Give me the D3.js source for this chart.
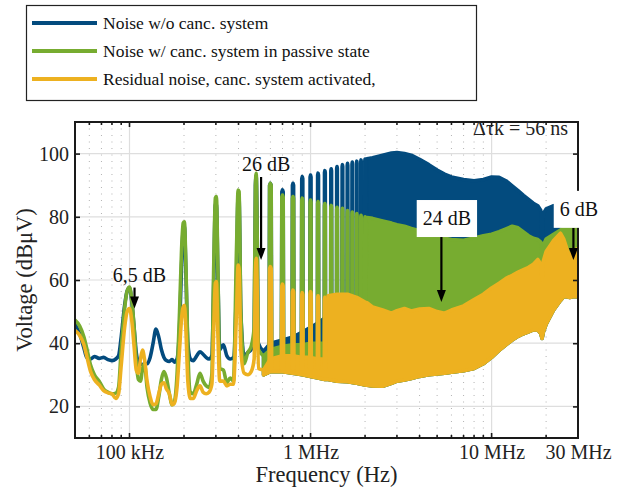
<!DOCTYPE html>
<html>
<head>
<meta charset="utf-8">
<script src="https://cdn.jsdelivr.net/npm/d3@7"></script>
<style>
  html, body { margin: 0; padding: 0; background: #fff; }
  svg { display: block; font-family: "Liberation Serif", "Times New Roman", serif; }
</style>
</head>
<body>
<svg id="chart" width="634" height="495"></svg>
<script>
// ---------------- data ----------------
const seriesNames = [
  "Noise w/o canc. system",
  "Noise w/ canc. system in passive state",
  "Residual noise, canc. system activated,"
];
const seriesColors = ["#034b7e", "#77ac30", "#edb120"];

// Detailed trace, 50 kHz – 550 kHz (dBµV)
const lowKHz = [50, 53, 56, 58, 61, 64, 68, 72, 76, 80, 84, 87, 90, 94, 97, 100, 103, 106, 109, 112,
  115, 118, 121, 125, 130, 135, 140, 145, 150, 155, 160, 166, 172, 177, 183, 189, 194, 198, 201, 205,
  210, 217, 225, 235, 245, 255, 265, 275, 285, 292, 298, 302, 308, 315, 330, 345, 360, 375, 390, 398,
  403, 412, 430, 450, 470, 488, 496, 501, 506, 515, 550];
const blueLow = [46, 43, 38.5, 35.5, 35, 35.8, 35.2, 35.5, 34.8, 34.5, 35, 36, 42, 52, 56.5, 57.5, 53, 45, 37, 34,
  33.5, 33.2, 33.5, 33.5, 35.5, 40, 44.5, 42, 38, 35.5, 34.5, 34.2, 34.8, 34, 35, 45, 65, 76, 77, 62,
  40, 35, 34.5, 36, 37.3, 36.5, 35.5, 35, 36, 60, 84, 84, 60, 38, 39.5, 36, 35, 35.5, 60, 87,
  86, 50, 36, 37, 38, 40, 90, 93, 80, 40, 37.5];
const greenLow = [47.3, 45.5, 42, 38.5, 33, 30, 28, 25.5, 24.5, 24, 24.2, 26, 38, 51, 56.5, 57.8, 53.5, 45, 34, 28.5,
  28, 32, 33.5, 26, 21, 19, 19, 23, 28.5, 31, 29, 24, 20.5, 21.5, 30, 50, 70, 78, 78.4, 64,
  38, 24.5, 24, 27, 30.5, 28, 26.5, 26, 30, 65, 86, 86.4, 62, 32, 31.5, 27.5, 29, 28, 70, 88.5,
  88, 50, 33.5, 37, 39, 45, 90, 93.8, 80, 38, 36];
const yellowLow = [44, 42.5, 39.5, 36, 31, 28.5, 26.8, 25, 24.3, 24, 22.5, 24, 33, 45, 50, 51, 47, 39, 31.5, 30.5,
  35, 37.8, 35, 28, 23, 20.5, 20.8, 24, 27, 27.5, 25.5, 24, 20.5, 21, 26, 38, 48, 51.5, 52, 44,
  28, 22.5, 22.5, 25, 26.5, 24.5, 24, 24.5, 27, 45, 59, 59.5, 42, 28, 28, 26.5, 27, 27, 50, 64.7,
  63.5, 38, 30.5, 30, 31, 35, 62, 66.9, 60, 32, 31.5];

// Harmonic lines of the 100 kHz comb (peak level, dBµV)
const combKHz = [600, 700, 800, 900, 1000, 1100, 1200, 1300, 1400, 1500, 1600, 1700, 1800, 1900, 2000];
const blueCombPeak = [90.6, 88.5, 90.6, 92.7, 93.2, 93.8, 94.6, 95.2, 95.9, 96.5, 96.9, 97.3, 97.6, 98, 98.3];
const greenCombPeak = [90.6, 86.9, 86.4, 85.9, 85.3, 84.8, 84.2, 83.6, 83, 82.7, 82, 81.5, 81, 80.5, 80];
const yellowCombPeak = [64.2, 58.7, 56.8, 56, 56.3, 55, 54.5];
const combFootDb = 32;

// Dense part of the spectrum: lower edge and per-series upper envelope (dBµV)
const bandMHz = [0.55, 0.6, 0.7, 0.8, 0.9, 1.0, 1.1, 1.2, 1.25, 1.4, 1.6, 1.8, 2.0, 2.05, 2.2, 2.5, 2.8, 3.0,
  3.3, 3.6, 4.0, 4.5, 5.0, 5.5, 6.0, 7, 8, 9, 10, 11, 12, 13, 14, 15, 16, 17, 18, 18.7, 19, 19.3,
  20, 22, 24, 25, 26, 27, 28, 30];
const bandFloor = [30, 31, 31, 30.5, 30, 29.5, 29, 28.5, 28.5, 28, 27.8, 27.3, 26.8, 26.7, 26.5, 26.4, 27.3, 28,
  28.4, 28.8, 29.5, 30, 30.3, 30.5, 30.8, 31.3, 32, 33.5, 35.5, 37.7, 39.5, 41, 42.2, 43, 43.6, 44.2, 44.2, 43, 41.5, 43.5,
  46, 50.5, 53.5, 54.7, 54.7, 54.5, 54.7, 54.7];
const blueBandTop = [37.5, 40, 41, 42, 43.5, 45, 46.5, 48, 48.5, 50, 52, 54, 55, 98.4, 98.7, 99.5, 100.2, 100.3,
  100, 99.5, 98.2, 96.5, 94.8, 93.5, 92.6, 91.8, 91.4, 91.8, 92.6, 92.5, 91.4, 89.8, 88.3, 86.8, 85.5, 84.3, 83.5, 82, 68.5, 81,
  82.5, 83.5, 84, 83, 81.5, 80.5, 80, 79];
const greenBandTop = [36, 38, 39, 39.5, 39.5, 40, 40, 40, 40, 40.5, 41, 41, 41, 79.8, 79.5, 78.7, 78, 77.5,
  77, 76.3, 75.6, 74.6, 73.8, 73.2, 72.8, 72.6, 73.3, 74, 74.5, 75.3, 76.2, 77, 76.5, 75.2, 74, 73.2, 72.8, 72, 66, 71,
  73, 74.5, 75.8, 76.5, 77, 77.5, 77.8, 78];
const yellowBandTop = [31.5, 35, 36, 36, 35.5, 35.5, 35, 35, 55, 55.5, 55.5, 54.5, 53, 52.8, 51.5, 50.5, 49.5, 50.3,
  51, 50.2, 50.8, 51, 50, 49.5, 50.5, 51.8, 53.8, 55.5, 57.5, 59, 60.5, 61.5, 62.5, 63.3, 64, 65, 66.5, 65, 60, 66,
  69, 72.5, 74.8, 73, 70, 67.4, 69, 70];

// Axes
const yTicks = [20, 40, 60, 80, 100];
const xMajor = [1e5, 1e6, 1e7];
const xMinor = [6e4, 7e4, 8e4, 9e4, 2e5, 3e5, 4e5, 5e5, 6e5, 7e5, 8e5, 9e5,
  2e6, 3e6, 4e6, 5e6, 6e6, 7e6, 8e6, 9e6, 2e7];
const xLabelFreqs = [1e5, 1e6, 1e7, 3e7];
const xLabels = ["100 kHz", "1 MHz", "10 MHz", "30 MHz"];

// Attenuation call-outs: arrow from level `from` down to level `to` at frequency f
const callouts = [
  { text: "6,5 dB", f: 106.6e3, from: 57.6, to: 51.0, boxed: false },
  { text: "26 dB", f: 533e3, from: 92.6, to: 66.3, boxed: false },
  { text: "24 dB", f: 5.28e6, from: 73.6, to: 53.0, boxed: true },
  { text: "6 dB", f: 28.3e6, from: 76.5, to: 66.3, boxed: true }
];
const delayNote = "Δτk = 56 ns";

// ---------------- layout ----------------
const plotL = 75, plotR = 578, plotT = 122, plotB = 438;
const LW = 3.6;

const x = d3.scaleLog().domain([50e3, 30e6]).range([plotL, plotR]);
const y = d3.scaleLinear().domain([10, 110]).range([plotB, plotT]);

const svg = d3.select("#chart");
svg.append("rect").attr("width", 634).attr("height", 495).attr("fill", "#fff");

svg.append("defs").append("clipPath").attr("id", "plot-clip")
  .append("rect").attr("x", plotL).attr("y", plotT)
  .attr("width", plotR - plotL).attr("height", plotB - plotT);

// grid
const grid = svg.append("g");
grid.selectAll("line.minor").data(xMinor).join("line")
  .attr("class", "minor")
  .attr("x1", d => x(d)).attr("x2", d => x(d))
  .attr("y1", plotT).attr("y2", plotB)
  .attr("stroke", "#b3b3b3").attr("stroke-width", 1)
  .attr("stroke-dasharray", "1 5.5");
grid.selectAll("line.xmajor").data(xMajor).join("line")
  .attr("class", "xmajor")
  .attr("x1", d => x(d)).attr("x2", d => x(d))
  .attr("y1", plotT).attr("y2", plotB)
  .attr("stroke", "#dedede").attr("stroke-width", 1.2);
grid.selectAll("line.ymajor").data(yTicks).join("line")
  .attr("class", "ymajor")
  .attr("x1", plotL).attr("x2", plotR)
  .attr("y1", d => y(d)).attr("y2", d => y(d))
  .attr("stroke", "#dedede").attr("stroke-width", 1.2);

// spectra
const series = [
  { color: seriesColors[0], low: blueLow, top: blueBandTop, peaks: blueCombPeak },
  { color: seriesColors[1], low: greenLow, top: greenBandTop, peaks: greenCombPeak },
  { color: seriesColors[2], low: yellowLow, top: yellowBandTop, peaks: yellowCombPeak }
];

const plot = svg.append("g").attr("clip-path", "url(#plot-clip)");
const lineGen = d3.line().x(d => x(d[0])).y(d => y(d[1])).curve(d3.curveMonotoneX);
const areaGen = d3.area().x(d => x(d.f)).y0(d => y(d.lo)).y1(d => y(d.hi));
const rbw = 10e3; // half-width of one harmonic line at its foot

series.forEach(s => {
  const g = plot.append("g");
  g.append("path")
    .datum(bandMHz.map((f, i) => ({ f: f * 1e6, lo: bandFloor[i], hi: s.top[i] })))
    .attr("d", areaGen)
    .attr("fill", s.color).attr("stroke", s.color)
    .attr("stroke-width", LW).attr("stroke-linejoin", "round");
  g.append("path")
    .datum(lowKHz.map((f, i) => [f * 1e3, s.low[i]]))
    .attr("d", lineGen)
    .attr("fill", "none").attr("stroke", s.color)
    .attr("stroke-width", LW).attr("stroke-linejoin", "round").attr("stroke-linecap", "round");
  g.selectAll("path.spike").data(s.peaks).join("path")
    .attr("class", "spike")
    .attr("d", (p, i) => {
      const f = combKHz[i] * 1e3;
      const yf = y(combFootDb), yp = y(p);
      return `M${x(f - rbw)},${yf}L${x(f - rbw * 0.6)},${yp + 2}L${x(f)},${yp}` +
        `L${x(f + rbw * 0.6)},${yp + 2}L${x(f + rbw)},${yf}Z`;
    })
    .attr("fill", s.color).attr("stroke", s.color)
    .attr("stroke-width", LW).attr("stroke-linejoin", "round");
});

// axes
const axes = svg.append("g");
const bottom = axes.append("g").attr("transform", `translate(0,${plotB})`)
  .call(d3.axisBottom(x).tickValues(xLabelFreqs).tickFormat((d, i) => xLabels[i])
    .tickSizeInner(0).tickSizeOuter(0).tickPadding(7));
bottom.selectAll("text").attr("font-size", 20).attr("fill", "#222").attr("font-family", "Liberation Serif, serif");
bottom.select(".domain").remove();
bottom.selectAll(".tick line").remove();

// x ticks, bottom & top, pointing into the plot
[[xMajor, 5], [xMinor, 3]].forEach(([vals, len]) => {
  axes.append("g").selectAll("line").data(vals).join("line")
    .attr("x1", d => x(d)).attr("x2", d => x(d))
    .attr("y1", plotB).attr("y2", plotB - len)
    .attr("stroke", "#1a1a1a").attr("stroke-width", 1.6);
  axes.append("g").selectAll("line").data(vals).join("line")
    .attr("x1", d => x(d)).attr("x2", d => x(d))
    .attr("y1", plotT).attr("y2", plotT + len)
    .attr("stroke", "#1a1a1a").attr("stroke-width", 1.6);
});

const left = axes.append("g").attr("transform", `translate(${plotL},0)`)
  .call(d3.axisLeft(y).tickValues(yTicks).tickSizeInner(-5).tickSizeOuter(0).tickPadding(6));
left.select(".domain").remove();
left.selectAll(".tick line").attr("stroke", "#1a1a1a").attr("stroke-width", 1.6);
left.selectAll("text").attr("font-size", 20).attr("fill", "#222").attr("font-family", "Liberation Serif, serif");

const right = axes.append("g").attr("transform", `translate(${plotR},0)`)
  .call(d3.axisRight(y).tickValues(yTicks).tickSizeInner(-5).tickSizeOuter(0).tickFormat(""));
right.select(".domain").remove();
right.selectAll(".tick line").attr("stroke", "#1a1a1a").attr("stroke-width", 1.6);

// frame
axes.append("rect")
  .attr("x", plotL).attr("y", plotT)
  .attr("width", plotR - plotL).attr("height", plotB - plotT)
  .attr("fill", "none").attr("stroke", "#1a1a1a").attr("stroke-width", 2);

// axis titles
svg.append("text")
  .attr("x", (plotL + plotR) / 2).attr("y", 482)
  .attr("text-anchor", "middle").attr("font-size", 22.5).attr("fill", "#222")
  .text("Frequency (Hz)");
svg.append("text")
  .attr("transform", `translate(32,${(plotT + plotB) / 2}) rotate(-90)`)
  .attr("text-anchor", "middle").attr("font-size", 22.5).attr("fill", "#222")
  .text("Voltage (dBμV)");

// delay note, top right inside the frame
svg.append("text")
  .attr("x", 568).attr("y", 135)
  .attr("text-anchor", "end").attr("font-size", 20).attr("fill", "#222")
  .text(delayNote);

// call-outs
const notes = svg.append("g");
callouts.forEach(c => {
  const ax = x(c.f), y0 = y(c.from), y1 = y(c.to);
  const headLen = 12, headW = 4.5;
  notes.append("line")
    .attr("x1", ax).attr("x2", ax).attr("y1", y0).attr("y2", y1 - headLen + 1)
    .attr("stroke", "#000").attr("stroke-width", 2.2);
  notes.append("path")
    .attr("d", `M${ax - headW},${y1 - headLen}L${ax + headW},${y1 - headLen}L${ax},${y1}Z`)
    .attr("fill", "#000");
  if (c.boxed) {
    const t = notes.append("text")
      .attr("x", ax + 5.5).attr("y", y0 - 12)
      .attr("text-anchor", "middle").attr("font-size", 20).attr("fill", "#111")
      .text(c.text);
    const bb = t.node().getBBox();
    notes.insert("rect", () => t.node())
      .attr("x", bb.x - 6).attr("y", y0 - 37)
      .attr("width", bb.width + 12).attr("height", 37)
      .attr("fill", "#fff");
  } else {
    notes.append("text")
      .attr("x", ax + 5).attr("y", y0 - 6)
      .attr("text-anchor", "middle").attr("font-size", 20).attr("fill", "#111")
      .text(c.text);
  }
});

// legend
const legend = svg.append("g");
legend.append("rect")
  .attr("x", 26.5).attr("y", 5.5).attr("width", 450).attr("height", 95)
  .attr("fill", "#fff").attr("stroke", "#222").attr("stroke-width", 1.2);
seriesNames.forEach((name, i) => {
  const ly = 23 + i * 28;
  legend.append("line")
    .attr("x1", 32).attr("x2", 97).attr("y1", ly).attr("y2", ly)
    .attr("stroke", seriesColors[i]).attr("stroke-width", 4);
  legend.append("text")
    .attr("x", 103).attr("y", ly + 6)
    .attr("font-size", 17.5).attr("fill", "#111")
    .text(name);
});
</script>
</body>
</html>
